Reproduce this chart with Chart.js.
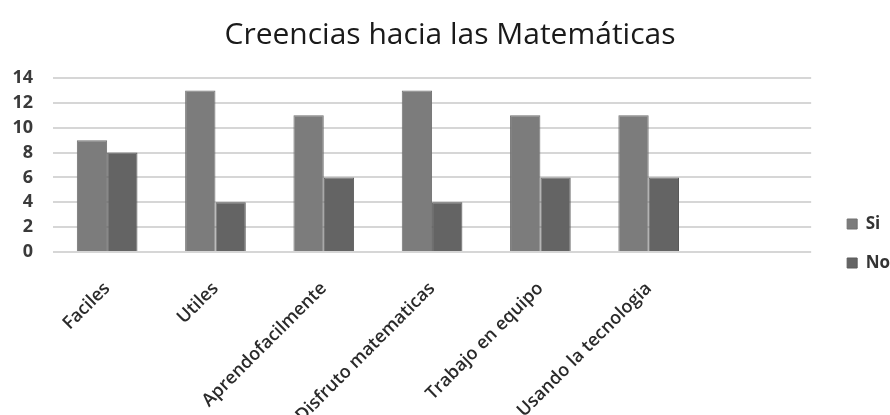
<!DOCTYPE html>
<html>
<head>
<meta charset="utf-8">
<script src="https://cdn.jsdelivr.net/npm/chart.js@4/dist/chart.umd.min.js"></script>
<style>
  html, body { margin: 0; padding: 0; background: #ffffff; overflow: hidden; }
  #wrap { width: 890px; height: 415px; overflow: hidden; position: relative; }
  canvas { display: block; }
</style>
</head>
<body>
<div id="wrap"><canvas id="c" width="900" height="415"></canvas></div>
<script>
const categories = ['Faciles', 'Utiles', 'Aprendofacilmente', 'Disfruto matematicas', 'Trabajo en equipo', 'Usando la tecnologia'];
const siValues = [9, 13, 11, 13, 11, 11];
const noValues = [8, 4, 6, 4, 6, 6];
const seriesNames = ['Si', 'No'];
const yTicks = [0, 2, 4, 6, 8, 10, 12, 14];

const FONT = "'Open Sans', 'DejaVu Sans', sans-serif";

new Chart(document.getElementById('c'), {
  type: 'bar',
  data: {
    labels: [...categories, ''],
    datasets: [
      { label: seriesNames[0], data: siValues, backgroundColor: '#7c7c7c', borderColor: '#707070', borderWidth: 1 },
      { label: seriesNames[1], data: noValues, backgroundColor: '#646464', borderColor: '#5a5a5a', borderWidth: 1 }
    ]
  },
  options: {
    responsive: false,
    animation: false,
    layout: { padding: 0 },
    datasets: { bar: { categoryPercentage: 0.56, barPercentage: 1.0 } },
    plugins: {
      title: {
        display: true,
        text: 'Creencias hacia las Matemáticas',
        color: '#1a1a1a',
        font: { family: FONT, size: 30, weight: 'normal' },
        padding: { top: 17, bottom: 25 }
      },
      legend: {
        display: true,
        position: 'right',
        align: 'center',
        title: { display: true, text: '', padding: { top: 57.6, bottom: 0 }, font: { size: 12 } },
        labels: {
          boxWidth: 10,
          boxHeight: 10,
          padding: 22,
          color: '#333333',
          font: { family: FONT, size: 17, weight: 'bold' }
        }
      },
      tooltip: { enabled: false }
    },
    scales: {
      x: {
        grid: { display: false, drawTicks: false },
        border: { display: false },
        ticks: {
          autoSkip: false,
          maxRotation: 45,
          minRotation: 45,
          padding: 26,
          color: '#2a2a2a',
          font: { family: FONT, size: 18, weight: '600' }
        },
        afterFit(s) { s.height = 163; }
      },
      y: {
        min: 0,
        max: 14,
        afterBuildTicks(s) { s.ticks = yTicks.map(v => ({ value: v })); },
        grid: { color: '#d6d6d6', lineWidth: 2, drawTicks: false },
        border: { display: false },
        ticks: {
          padding: 20,
          color: '#3a3a3a',
          font: { family: FONT, size: 18, weight: 'bold' }
        },
        afterFit(s) { s.width = 53; }
      },
      yPad: {
        type: 'linear',
        axis: 'y',
        position: 'right',
        display: true,
        grid: { display: false, drawTicks: false },
        border: { display: false },
        ticks: { display: false },
        afterFit(s) { s.width = 14; }
      }
    }
  }
});
</script>
</body>
</html>
